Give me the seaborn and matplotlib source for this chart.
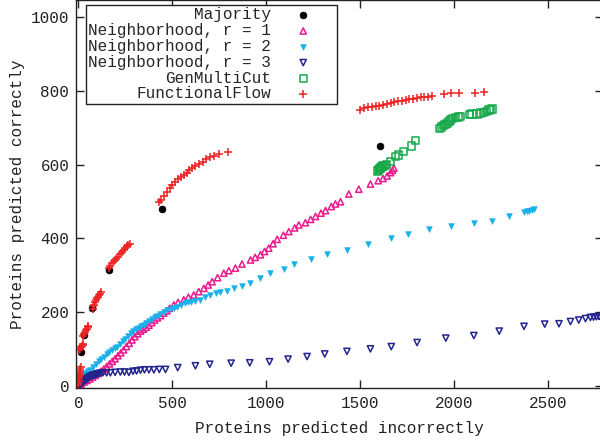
import matplotlib
matplotlib.use("Agg")
import matplotlib.pyplot as plt
import seaborn as sns
import pandas as pd

# ---------------- data ----------------
maj_x = [3, 14, 28, 73, 161, 445, 1603]
maj_y = [25, 92, 138, 210, 314, 480, 650]

r1_x = [0, 15, 30, 45, 60, 75, 90, 105, 120, 135, 150, 165, 180, 195, 210, 225, 240, 255,
        270, 285, 300, 315, 330, 345, 360, 375, 390, 405, 420, 437, 454, 470, 485, 507, 530,
        560, 585, 613, 640, 667, 690, 711, 740, 773, 800, 835, 870, 915, 940, 968, 990, 1012,
        1035, 1057, 1090, 1119, 1150, 1172, 1207, 1235, 1261, 1290, 1314, 1345, 1367, 1394,
        1438, 1491, 1553, 1594, 1620, 1642, 1660, 1670, 1678]
r1_y = [2, 5, 10, 14, 18, 23, 28, 33, 39, 45, 52, 59, 66, 73, 81, 89, 97, 106,
        115, 124, 133, 141, 148, 153, 158, 164, 171, 178, 184, 190, 197, 203, 210, 219, 226,
        233, 240, 246, 255, 264, 273, 282, 293, 305, 312, 319, 330, 341, 348, 355, 364, 373,
        385, 397, 408, 418, 428, 436, 442, 451, 459, 468, 475, 486, 493, 499,
        520, 533, 547, 556, 562, 569, 578, 584, 590]

r2_x = [0, 5, 10, 20, 30, 40, 50, 64, 80, 95, 110, 122, 135, 150, 165, 180, 195, 206, 220,
        235, 250, 265, 277, 290, 305, 320, 335, 347, 360, 375, 390, 405, 420, 436, 454, 470,
        490, 507, 525, 545, 565, 585, 596, 620, 649, 675, 702, 730, 755, 791, 827, 870, 915,
        968, 1021, 1092, 1149, 1238, 1323, 1429, 1541, 1660, 1752, 1864, 1979, 2103, 2200,
        2289, 2369, 2385, 2396, 2410, 2422]
r2_y = [10, 20, 25, 28, 31, 35, 39, 43, 50, 58, 66, 72, 79, 85, 91, 96, 101, 106, 113,
        120, 127, 135, 142, 148, 153, 157, 162, 165, 170, 176, 181, 186, 190, 194, 200, 204,
        208, 211, 214, 219, 223, 226, 228, 231, 233, 240, 246, 251, 255, 258, 264, 271, 278,
        291, 305, 316, 330, 343, 357, 368, 384, 400, 411, 425, 433, 441, 448,
        460, 471, 473, 475, 477, 479]

r3_x = [0, 5, 10, 15, 20, 25, 30, 35, 40, 45, 50, 55, 60, 65, 70, 75, 80, 85, 90, 95, 100,
        108, 117, 130, 150, 170, 195, 223, 245, 268, 290, 309, 330, 351, 375, 401, 430, 463,
        528, 622, 698, 812, 911, 1016, 1115, 1216, 1310, 1428, 1553, 1664, 1801, 1954, 2103,
        2238, 2370, 2480, 2556, 2617, 2661, 2697, 2723, 2740, 2755, 2770, 2785]
r3_y = [0, 2, 4, 6, 8, 10, 12, 14, 16, 18, 20, 22, 24, 25, 26, 27, 28, 29, 30, 31, 32,
        33, 34, 35, 35, 35, 36, 37, 37, 36, 39, 40, 42, 43, 43, 43, 44, 44,
        49, 54, 58, 61, 62, 65, 72, 79, 86, 93, 100, 106, 117, 129, 136,
        148, 161, 167, 168, 174, 178, 182, 185, 186, 187, 187, 187]

gmc_x = [1590, 1595, 1600, 1605, 1610, 1615, 1620, 1630, 1640, 1660, 1686, 1703, 1729, 1770,
         1793, 1920, 1930, 1940, 1950, 1961, 1970, 1979, 1990, 2005, 2020, 2032, 2080, 2094,
         2120, 2140, 2156, 2170, 2183, 2190, 2200]
gmc_y = [582, 585, 588, 590, 592, 594, 596, 598, 600, 608, 621, 626, 635, 650,
         665, 698, 702, 705, 709, 712, 716, 721, 724, 727, 729, 730, 735, 737,
         737, 740, 741, 744, 748, 750, 751]

ff_x = [-10, -5, 0, 2, 5, 3, 8, 10, 6, 12, -3, 4,
        5, 10, 14, 18, 22, 26,
        25, 30, 35, 40, 45, 50, 53,
        75, 80, 85, 90, 95, 100, 105, 110, 115, 122,
        160, 170, 180, 190, 200, 210, 220, 230, 240, 250, 258, 265, 275,
        427, 440, 455, 470, 485, 500, 515, 530, 545, 560, 575, 590, 605, 620, 640, 660, 680,
        700, 720, 745, 795,
        1500, 1520, 1540, 1560, 1580, 1600, 1620, 1640, 1660, 1680, 1700, 1720, 1740, 1760,
        1780, 1800, 1820, 1840, 1860, 1880, 1945, 1980, 2025, 2110, 2155]
ff_y = [2, 8, 15, 20, 25, 30, 35, 40, 45, 50, 5, 12,
        96, 100, 104, 107, 110, 113,
        135, 140, 145, 150, 155, 160, 163,
        208, 215, 220, 226, 232, 237, 241, 246, 250, 255,
        318, 325, 332, 338, 343, 350, 356, 362, 368, 374, 378, 382, 385,
        497, 505, 515, 525, 535, 545, 553, 560, 566, 572, 578, 584, 590, 596, 602, 608, 614,
        620, 624, 628, 635,
        748, 752, 755, 757, 758, 760, 762, 765, 767, 769, 771, 773, 775, 777,
        779, 781, 782, 783, 784, 786, 791, 793, 795, 795, 798]

labels = ["Majority", "Neighborhood, r = 1", "Neighborhood, r = 2",
          "Neighborhood, r = 3", "GenMultiCut", "FunctionalFlow"]
x_ticks = [0, 500, 1000, 1500, 2000, 2500]
y_ticks = [0, 200, 400, 600, 800, 1000]

# ---------------- style ----------------
sns.set_theme(style="ticks")
plt.rcParams["font.family"] = ["Liberation Mono", "DejaVu Sans Mono"]
plt.rcParams["font.size"] = 11.5
plt.rcParams["axes.linewidth"] = 1.0

fig = plt.figure(figsize=(6.0, 4.42), dpi=100)
ax = fig.add_axes([0.127, 0.1233, 0.878, 0.8756])

series = [
    (maj_x, maj_y, dict(marker="o", s=24, fc="black", ec="black", linewidth=0.5)),
    (r1_x, r1_y, dict(marker="^", s=20, fc="none", ec="#ec1a8c", linewidth=1.1)),
    (r2_x, r2_y, dict(marker="v", s=16, fc="#1ab0ea", ec="#1ab0ea", linewidth=0.5)),
    (r3_x, r3_y, dict(marker="v", s=20, fc="none", ec="#24248f", linewidth=1.1)),
    (gmc_x, gmc_y, dict(marker="s", s=28, fc="none", ec="#17a84a", linewidth=1.1)),
    (ff_x, ff_y, dict(marker="+", s=36, c="#ee2222", linewidth=1.1)),
]

for (xs, ys, kw), lab in zip(series, labels):
    df = pd.DataFrame({"x": xs, "y": ys})
    sns.scatterplot(data=df, x="x", y="y", ax=ax, label=lab, legend=False, **kw)

ax.set_xlim(-12, 2790)
ax.set_ylim(-5, 1045)
ax.set_xticks(x_ticks)
ax.set_yticks(y_ticks)
ax.tick_params(direction="in", length=6, width=1, top=True, right=True,
               labelsize=11.5, colors="#222222")
ax.tick_params(axis="x", pad=6)
ax.tick_params(axis="y", pad=5)
for sp in ax.spines.values():
    sp.set_visible(True)
    sp.set_color("#222222")

ax.set_xlabel("Proteins predicted incorrectly", fontsize=11.5, color="#222222", labelpad=7)
ax.set_ylabel("Proteins predicted correctly", fontsize=11.5, color="#222222", labelpad=4)

leg = ax.legend(loc="upper left", bbox_to_anchor=(86 / 600, 1 - 5 / 442),
                bbox_transform=fig.transFigure, markerfirst=False, frameon=True,
                fancybox=False, shadow=False, scatterpoints=1, handlelength=3.9,
                handletextpad=0.05, borderpad=0.15, labelspacing=0.05,
                borderaxespad=0, fontsize=11.5)
leg.get_frame().set_edgecolor("#222222")
leg.get_frame().set_linewidth(1.0)
leg.get_frame().set_alpha(1)

fig.savefig("out.png", dpi=100)
